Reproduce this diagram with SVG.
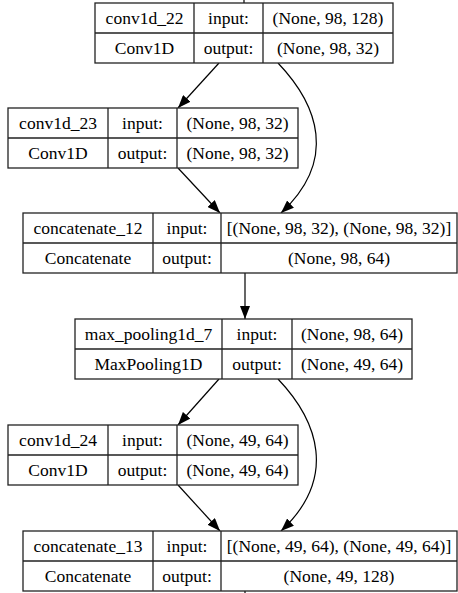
<svg xmlns="http://www.w3.org/2000/svg" width="458" height="593" viewBox="0 0 458 593">
<style>
.box{fill:#fff;stroke:#222;stroke-width:1.3}
.ln{stroke:#222;stroke-width:1.3;fill:none}
.t{font-family:'Liberation Serif','Times New Roman',serif;font-size:17.5px;fill:#000;text-anchor:middle}
.e{stroke:#000;stroke-width:1.2;fill:none;marker-end:url(#ah)}
</style>
<defs>
<marker id="ah" markerUnits="userSpaceOnUse" viewBox="0 0 13 10" refX="13" refY="5" markerWidth="13" markerHeight="10" orient="auto">
<path d="M0,0 L13,5 L0,10 z" fill="#000"/>
</marker>
</defs>
<rect width="458" height="593" fill="#fff"/>
<g id="connectors">
<line x1="244" y1="0" x2="244" y2="3" stroke="#000" stroke-width="1.2"/>
<path class="e" d="M219,63 L178,108"/>
<path class="e" d="M278,63 C318,105 338,160 281,213"/>
<path class="e" d="M178,168 L220,213"/>
<path class="e" d="M245,273 L245,319"/>
<path class="e" d="M219,379 L178,425"/>
<path class="e" d="M278,379 C318,421 338,478 281,531"/>
<path class="e" d="M178,485 L220,531"/>
<line x1="245" y1="591" x2="245" y2="593" stroke="#000" stroke-width="1.2"/>
</g>
<g id="conv1d_22" class="t" font-family="Liberation Serif, serif">
<rect class="box" x="95" y="3" width="298" height="60"/>
<path class="ln" d="M95,33 H393 M194,3 V63 M263,3 V63"/>
<text x="144.5" y="24">conv1d_22</text><text x="228.5" y="24">input:</text><text x="328" y="24">(None, 98, 128)</text>
<text x="144.5" y="54">Conv1D</text><text x="228.5" y="54">output:</text><text x="328" y="54">(None, 98, 32)</text>
</g>
<g id="conv1d_23" class="t" font-family="Liberation Serif, serif">
<rect class="box" x="8" y="108" width="290" height="60"/>
<path class="ln" d="M8,138 H298 M108,108 V168 M177,108 V168"/>
<text x="58" y="129">conv1d_23</text><text x="142.5" y="129">input:</text><text x="237.5" y="129">(None, 98, 32)</text>
<text x="58" y="159">Conv1D</text><text x="142.5" y="159">output:</text><text x="237.5" y="159">(None, 98, 32)</text>
</g>
<g id="concatenate_12" class="t" font-family="Liberation Serif, serif">
<rect class="box" x="23" y="213" width="434" height="60"/>
<path class="ln" d="M23,243 H457 M153,213 V273 M221,213 V273"/>
<text x="88" y="234">concatenate_12</text><text x="187" y="234">input:</text><text x="339" y="234">[(None, 98, 32), (None, 98, 32)]</text>
<text x="88" y="264">Concatenate</text><text x="187" y="264">output:</text><text x="339" y="264">(None, 98, 64)</text>
</g>
<g id="max_pooling1d_7" class="t" font-family="Liberation Serif, serif">
<rect class="box" x="75" y="319" width="337" height="60"/>
<path class="ln" d="M75,349 H412 M222,319 V379 M292,319 V379"/>
<text x="148.5" y="340">max_pooling1d_7</text><text x="257" y="340">input:</text><text x="352" y="340">(None, 98, 64)</text>
<text x="148.5" y="370">MaxPooling1D</text><text x="257" y="370">output:</text><text x="352" y="370">(None, 49, 64)</text>
</g>
<g id="conv1d_24" class="t" font-family="Liberation Serif, serif">
<rect class="box" x="8" y="425" width="290" height="60"/>
<path class="ln" d="M8,455 H298 M108,425 V485 M177,425 V485"/>
<text x="58" y="446">conv1d_24</text><text x="142.5" y="446">input:</text><text x="237.5" y="446">(None, 49, 64)</text>
<text x="58" y="476">Conv1D</text><text x="142.5" y="476">output:</text><text x="237.5" y="476">(None, 49, 64)</text>
</g>
<g id="concatenate_13" class="t" font-family="Liberation Serif, serif">
<rect class="box" x="23" y="531" width="434" height="60"/>
<path class="ln" d="M23,561 H457 M153,531 V591 M221,531 V591"/>
<text x="88" y="552">concatenate_13</text><text x="187" y="552">input:</text><text x="339" y="552">[(None, 49, 64), (None, 49, 64)]</text>
<text x="88" y="582">Concatenate</text><text x="187" y="582">output:</text><text x="339" y="582">(None, 49, 128)</text>
</g>
</svg>
